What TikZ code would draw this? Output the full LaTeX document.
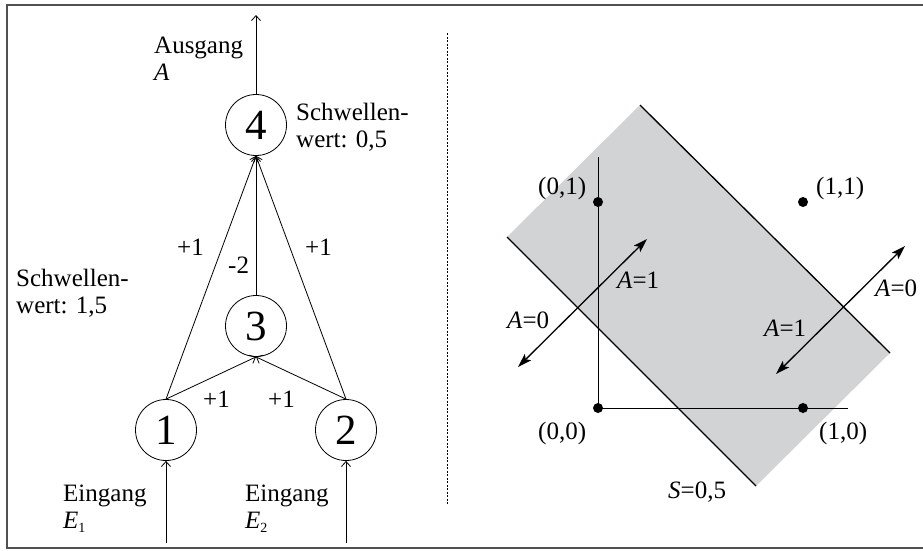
\documentclass[tikz,border=0pt]{standalone}
\usepackage{fontspec}
\setmainfont{Liberation Serif}
\usetikzlibrary{arrows.meta}
\definecolor{regiongray}{RGB}{209,211,212}
\definecolor{framegray}{RGB}{80,80,80}
\begin{document}
\begin{tikzpicture}[x=1pt,y=-1pt,
  neuron/.style={circle, draw, line width=0.8pt, minimum size=61pt, inner sep=0pt, font=\fontsize{43}{43}\selectfont},
  lbl/.style={anchor=base west, inner sep=0pt, font=\fontsize{25}{26.5}\selectfont, align=left},
  conn/.style={line width=0.8pt, -{Straight Barb[length=5pt,width=9pt]}},
  dblarrow/.style={line width=1.3pt, {Stealth[length=14pt,width=9pt,inset=3pt]}-{Stealth[length=14pt,width=9pt,inset=3pt]}},
  dotpt/.style={circle, fill=black, minimum size=10pt, inner sep=0pt},
  axisline/.style={line width=0.9pt},
  boundline/.style={line width=1.3pt}
]
\useasboundingbox (0,0) rectangle (923,550);
% frame
\draw[line width=1.5pt, draw=framegray] (935,5) -- (7,5) -- (7,548) -- (935,548);

% ---------- left: network ----------
\node[neuron] (n4) at (256,125) {4};
\node[neuron] (n3) at (256,326) {3};
\node[neuron] (n1) at (166,430) {1};
\node[neuron] (n2) at (346,430) {2};
\coordinate (out) at (256,15);
\coordinate (in1) at (166,543);
\coordinate (in2) at (346,543);

\draw[conn] (n4.north) -- (out);
\draw[conn] (in1) -- (n1.south);
\draw[conn] (in2) -- (n2.south);
\draw[conn] (n1.north) -- (n4.south);
\draw[conn] (n2.north) -- (n4.south);
\draw[conn] (n3.north) -- (n4.south);
\draw[conn] (n1.north) -- (n3.south);
\draw[conn] (n2.north) -- (n3.south);

\node[lbl] (lout) at (154,80) {Ausgang\\\textit{A}};
\node[lbl] (lth4) at (296,147) {Schwellen-\\wert: 0,5};
\node[lbl] (lth3) at (16,313) {Schwellen-\\wert: 1,5};
\node[lbl] (lin1) at (63,528) {Eingang\\\textit{E}\raisebox{-0.35ex}{\fontsize{14}{14}\selectfont 1}};
\node[lbl] (lin2) at (245,528) {Eingang\\\textit{E}\raisebox{-0.35ex}{\fontsize{14}{14}\selectfont 2}};
\node[lbl] (w14) at (177,255) {+1};
\node[lbl] (w34) at (228,273) {-2};
\node[lbl] (w24) at (305,255) {+1};
\node[lbl] (w13) at (203,407) {+1};
\node[lbl] (w23) at (268,407) {+1};

% divider
\draw[line width=1pt, dash pattern=on 2pt off 1.5pt] (447,33) -- (447,505);

% ---------- right: decision region ----------
\fill[regiongray] (507,237) -- (640,105) -- (890,353) -- (756,486) -- cycle;
\draw[boundline] (507,237) -- (756,486);
\draw[boundline] (640,105) -- (890,353);

\node[dotpt] (p00) at (598,408) {};
\node[dotpt] (p01) at (598,202) {};
\node[dotpt] (p10) at (803,408) {};
\node[dotpt] (p11) at (803,202) {};
\coordinate (yend) at (598,157);
\coordinate (xend) at (848,408);
\draw[axisline] (p00.center) -- (yend);
\draw[axisline] (p00.center) -- (xend);

\coordinate (a1s) at (518,367);
\coordinate (a1e) at (647,239);
\coordinate (a2s) at (776,374);
\coordinate (a2e) at (905,246);
\draw[dblarrow] (a1s) -- (a1e);
\draw[dblarrow] (a2s) -- (a2e);

\node[lbl] (l01) at (538,194) {(0,1)};
\node[lbl] (l11) at (816,194) {(1,1)};
\node[lbl] (l00) at (538,439) {(0,0)};
\node[lbl] (l10) at (819,439) {(1,0)};
\node[lbl] (lS) at (668,498) {\textit{S}=0,5};
\node[lbl] (lA1a) at (617,288) {\textit{A}=1};
\node[lbl] (lA0a) at (507,328) {\textit{A}=0};
\node[lbl] (lA1b) at (764,336) {\textit{A}=1};
\node[lbl] (lA0b) at (875,296) {\textit{A}=0};
\end{tikzpicture}
\end{document}
